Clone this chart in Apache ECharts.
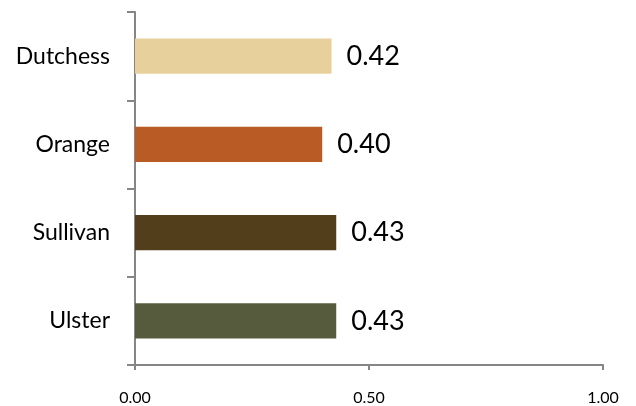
<!DOCTYPE html>
<html>
<head>
<meta charset="utf-8">
<script src="https://cdn.jsdelivr.net/npm/echarts@6/dist/echarts.min.js"></script>
<style>html,body{margin:0;padding:0;background:#fff}#c{width:636px;height:406px}</style>
</head>
<body>
<div id="c"></div>
<script>
const categories = ["Dutchess", "Orange", "Sullivan", "Ulster"];
const values = [0.42, 0.40, 0.43, 0.43];
const colors = ["#E8D09C", "#B95B24", "#533E1C", "#575B3E"];
const xTicks = [0, 0.5, 1.0];

const chart = echarts.init(document.getElementById('c'));
chart.setOption({
  animation: false,
  grid: {left: 135, right: 33, top: 12, bottom: 40, containLabel: false},
  xAxis: {
    type: 'value', min: xTicks[0], max: xTicks[xTicks.length - 1], interval: xTicks[1] - xTicks[0],
    axisLine: {show: true, lineStyle: {color: '#868686', width: 2}},
    axisTick: {show: true, length: 5, lineStyle: {color: '#868686', width: 2}},
    splitLine: {show: false},
    axisLabel: {margin: 25, fontFamily: 'Lato', fontSize: 16, color: '#000',
      formatter: v => v.toFixed(2)}
  },
  yAxis: {
    type: 'category', data: categories, inverse: true,
    axisLine: {show: true, lineStyle: {color: '#868686', width: 2}},
    axisTick: {show: true, length: 8, lineStyle: {color: '#868686', width: 2}},
    axisLabel: {margin: 25, fontFamily: 'Lato', fontSize: 23, color: '#000'}
  },
  series: [{
    type: 'bar', barWidth: '40%',
    data: values.map((v, i) => ({value: v, itemStyle: {color: colors[i]}})),
    label: {show: true, position: 'right', distance: 15, fontFamily: 'Lato', fontSize: 27, color: '#000',
      formatter: p => p.value.toFixed(2)}
  }]
});
</script>
</body>
</html>
